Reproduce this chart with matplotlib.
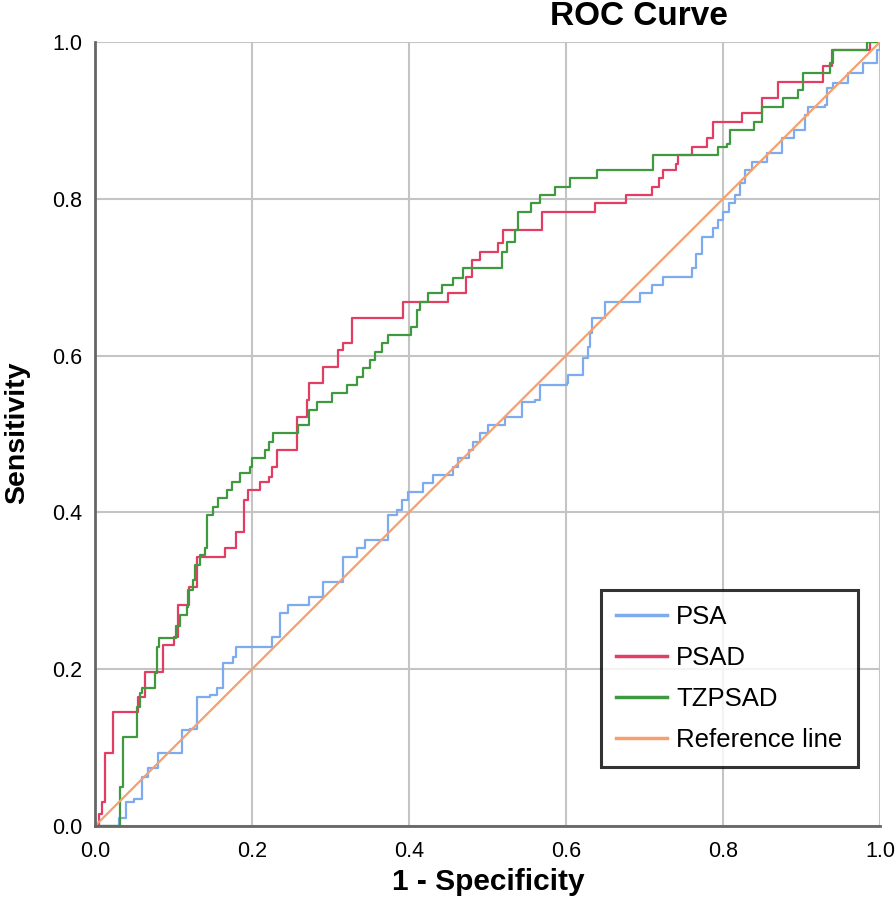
import matplotlib
matplotlib.use("Agg")
import matplotlib.pyplot as plt

plt.rcParams['font.family'] = ['Liberation Sans', 'DejaVu Sans']

psa_fpr = [0, 0.025, 0.03, 0.04, 0.05, 0.06, 0.068, 0.08, 0.104, 0.111, 0.121, 0.13, 0.146, 0.155, 0.163, 0.176, 0.18, 0.223, 0.226, 0.236, 0.246, 0.27, 0.272, 0.284, 0.29, 0.308, 0.316, 0.334, 0.344, 0.369, 0.373, 0.385, 0.391, 0.399, 0.414, 0.418, 0.431, 0.446, 0.456, 0.462, 0.474, 0.476, 0.482, 0.49, 0.501, 0.518, 0.522, 0.537, 0.544, 0.56, 0.567, 0.601, 0.603, 0.62, 0.622, 0.628, 0.631, 0.633, 0.65, 0.69, 0.694, 0.71, 0.724, 0.748, 0.76, 0.765, 0.773, 0.786, 0.787, 0.793, 0.8, 0.808, 0.815, 0.822, 0.828, 0.837, 0.851, 0.856, 0.87, 0.875, 0.888, 0.89, 0.9, 0.904, 0.908, 0.93, 0.932, 0.94, 0.953, 0.959, 0.977, 0.978, 0.994, 0.996, 1.0]
psa_tpr = [0, 0, 0.01, 0.03, 0.035, 0.062, 0.074, 0.093, 0.093, 0.122, 0.124, 0.165, 0.167, 0.176, 0.208, 0.216, 0.228, 0.228, 0.241, 0.272, 0.282, 0.282, 0.292, 0.292, 0.311, 0.311, 0.343, 0.355, 0.365, 0.365, 0.397, 0.403, 0.416, 0.426, 0.426, 0.437, 0.448, 0.448, 0.458, 0.469, 0.469, 0.48, 0.49, 0.501, 0.511, 0.511, 0.522, 0.522, 0.541, 0.543, 0.562, 0.565, 0.575, 0.575, 0.597, 0.611, 0.629, 0.648, 0.668, 0.668, 0.68, 0.69, 0.70, 0.70, 0.712, 0.73, 0.751, 0.751, 0.763, 0.773, 0.783, 0.795, 0.805, 0.82, 0.837, 0.847, 0.847, 0.858, 0.858, 0.877, 0.877, 0.888, 0.888, 0.907, 0.917, 0.92, 0.941, 0.948, 0.948, 0.96, 0.96, 0.973, 0.973, 0.99, 1.0]

psad_fpr = [0, 0.005, 0.009, 0.013, 0.023, 0.023, 0.048, 0.055, 0.064, 0.085, 0.087, 0.10, 0.106, 0.118, 0.12, 0.13, 0.163, 0.166, 0.18, 0.19, 0.195, 0.208, 0.21, 0.222, 0.225, 0.232, 0.251, 0.257, 0.257, 0.265, 0.27, 0.272, 0.29, 0.29, 0.308, 0.31, 0.316, 0.327, 0.327, 0.392, 0.392, 0.45, 0.45, 0.469, 0.472, 0.48, 0.49, 0.512, 0.513, 0.52, 0.567, 0.569, 0.635, 0.637, 0.675, 0.677, 0.707, 0.709, 0.718, 0.724, 0.74, 0.743, 0.758, 0.76, 0.777, 0.779, 0.784, 0.787, 0.822, 0.824, 0.844, 0.85, 0.87, 0.87, 0.927, 0.927, 0.934, 0.939, 0.985, 0.987, 1.0]
psad_tpr = [0, 0.015, 0.03, 0.093, 0.114, 0.145, 0.145, 0.165, 0.196, 0.196, 0.231, 0.241, 0.282, 0.282, 0.305, 0.343, 0.343, 0.355, 0.375, 0.416, 0.429, 0.429, 0.439, 0.445, 0.458, 0.48, 0.48, 0.501, 0.522, 0.522, 0.543, 0.565, 0.565, 0.585, 0.585, 0.607, 0.616, 0.616, 0.648, 0.648, 0.668, 0.668, 0.68, 0.68, 0.70, 0.722, 0.732, 0.732, 0.744, 0.76, 0.76, 0.783, 0.783, 0.795, 0.795, 0.805, 0.805, 0.815, 0.827, 0.837, 0.845, 0.856, 0.856, 0.866, 0.866, 0.877, 0.877, 0.898, 0.898, 0.909, 0.909, 0.929, 0.929, 0.949, 0.949, 0.97, 0.97, 0.99, 0.99, 1.0, 1.0]

tz_fpr = [0, 0.028, 0.032, 0.036, 0.036, 0.051, 0.054, 0.057, 0.06, 0.074, 0.076, 0.079, 0.082, 0.098, 0.103, 0.108, 0.117, 0.119, 0.125, 0.128, 0.134, 0.14, 0.143, 0.15, 0.157, 0.168, 0.174, 0.185, 0.197, 0.2, 0.214, 0.216, 0.222, 0.227, 0.257, 0.258, 0.27, 0.272, 0.283, 0.302, 0.321, 0.334, 0.341, 0.35, 0.357, 0.366, 0.373, 0.399, 0.403, 0.41, 0.414, 0.424, 0.442, 0.456, 0.469, 0.513, 0.518, 0.525, 0.535, 0.539, 0.554, 0.556, 0.567, 0.586, 0.605, 0.639, 0.707, 0.711, 0.792, 0.794, 0.805, 0.809, 0.838, 0.84, 0.85, 0.877, 0.896, 0.902, 0.934, 0.936, 0.94, 0.981, 0.983, 1.0]
tz_tpr = [0, 0, 0.05, 0.093, 0.114, 0.114, 0.152, 0.17, 0.176, 0.176, 0.195, 0.228, 0.24, 0.24, 0.255, 0.269, 0.279, 0.301, 0.314, 0.333, 0.346, 0.355, 0.397, 0.407, 0.418, 0.429, 0.439, 0.45, 0.458, 0.469, 0.469, 0.48, 0.49, 0.501, 0.501, 0.511, 0.511, 0.53, 0.541, 0.552, 0.562, 0.573, 0.584, 0.594, 0.605, 0.616, 0.626, 0.626, 0.637, 0.658, 0.668, 0.68, 0.69, 0.699, 0.712, 0.712, 0.732, 0.745, 0.76, 0.783, 0.783, 0.795, 0.805, 0.815, 0.827, 0.837, 0.837, 0.856, 0.856, 0.866, 0.87, 0.888, 0.888, 0.898, 0.917, 0.929, 0.939, 0.96, 0.96, 0.973, 0.99, 0.99, 1.0, 1.0]

ref_x = [0, 1]
ref_y = [0, 1]

series_names = ["PSA", "PSAD", "TZPSAD", "Reference line"]
colors = ["#7eabee", "#e23d62", "#3f9a3f", "#f5a06e"]
ticks = [0.0, 0.2, 0.4, 0.6, 0.8, 1.0]

W, H = 896, 916
fig = plt.figure(figsize=(W / 100, H / 100), dpi=100)
ax = fig.add_axes([95 / W, 90 / H, 785 / W, 784 / H])

ax.plot(psa_fpr, psa_tpr, color=colors[0], lw=1.6, drawstyle="steps-post", label=series_names[0])
ax.plot(psad_fpr, psad_tpr, color=colors[1], lw=1.6, drawstyle="steps-post", label=series_names[1])
ax.plot(tz_fpr, tz_tpr, color=colors[2], lw=1.6, drawstyle="steps-post", label=series_names[2])
ax.plot(ref_x, ref_y, color=colors[3], lw=1.6, label=series_names[3])

ax.set_xlim(0, 1)
ax.set_ylim(0, 1)
ax.set_xticks(ticks)
ax.set_yticks(ticks)
ax.set_xticklabels([f"{t:.1f}" for t in ticks], fontsize=15.5)
ax.set_yticklabels([f"{t:.1f}" for t in ticks], fontsize=15.5)
ax.tick_params(axis="x", length=0, pad=11)
ax.tick_params(axis="y", length=0, pad=9)
ax.grid(True, color="#c4c4c4", lw=1.5)
ax.set_axisbelow(True)
for s in ["top", "right"]:
    ax.spines[s].set_visible(False)
for s in ["left", "bottom"]:
    ax.spines[s].set_color("#666666")
    ax.spines[s].set_linewidth(2)

fig.text(488 / W, 1 - 890 / H, "1 - Specificity", fontsize=21.5, fontweight="bold",
         ha="center", va="baseline")
fig.text(17 / W, 1 - 433 / H, "Sensitivity", fontsize=20.5, fontweight="bold",
         ha="center", va="center", rotation=90)
fig.text(639 / W, 1 - 25 / H, "ROC Curve", fontsize=24, fontweight="bold",
         ha="center", va="baseline")

leg = ax.legend(loc="lower right", bbox_to_anchor=(0.972, 0.0753), fontsize=18.5,
                frameon=True, fancybox=False, edgecolor="black", handlelength=2.0,
                labelspacing=0.65, borderpad=0.6, handletextpad=0.35, borderaxespad=0)
leg.get_frame().set_linewidth(2.2)
for line in leg.get_lines():
    line.set_linewidth(2.5)

fig.savefig("out.png", dpi=100)
